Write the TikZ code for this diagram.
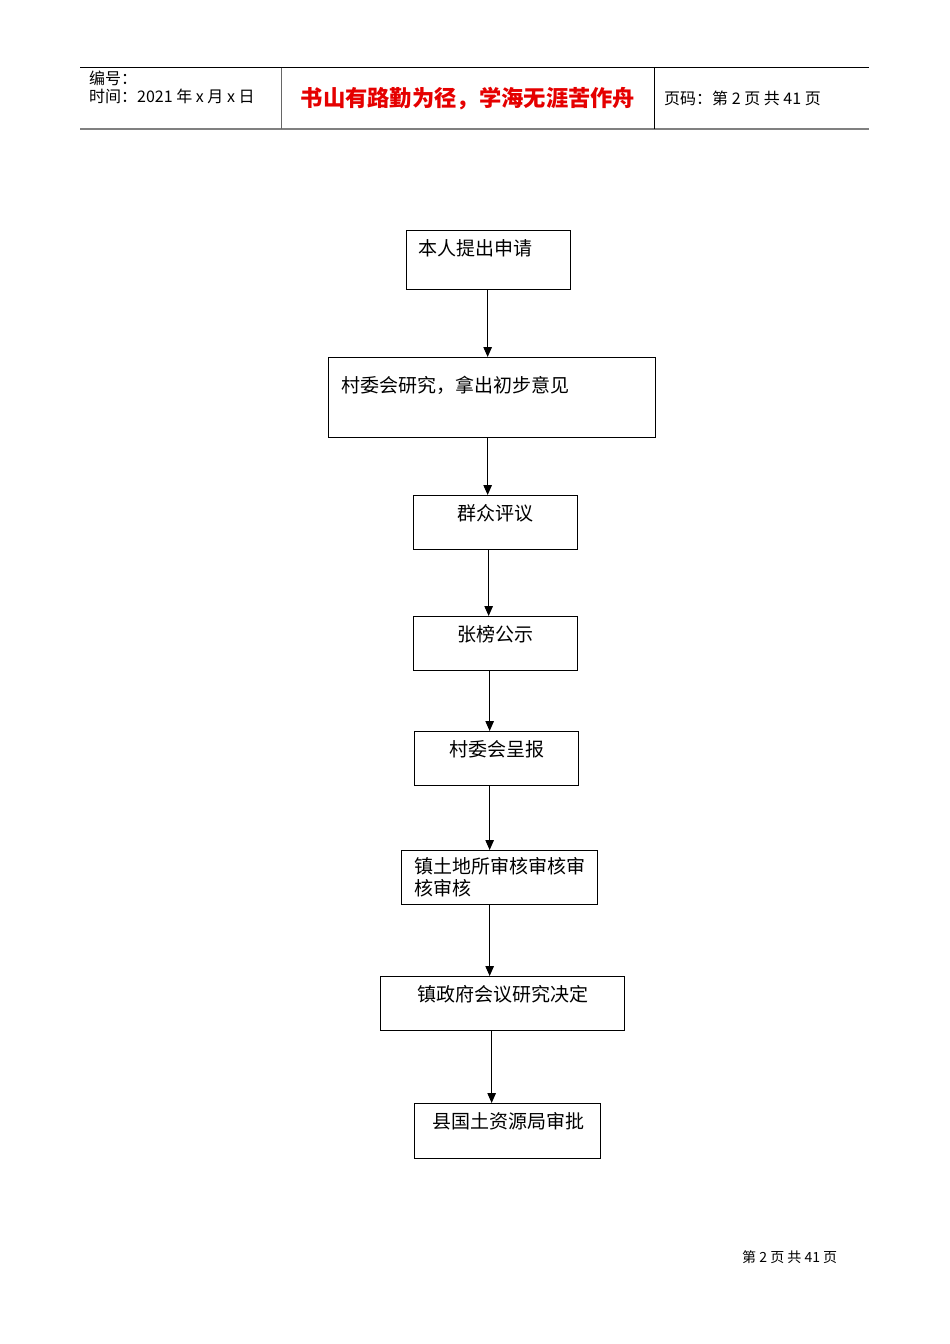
\documentclass[tikz,border=0pt]{standalone}
\usepackage{fontspec}
\usepackage{xcolor}
\setmainfont{Liberation Sans}
\newfontfamily\cjk{Noto Sans CJK SC}
\usetikzlibrary{arrows.meta}

\begin{document}
\begin{tikzpicture}[x=1pt,y=-1pt,font=\cjk\fontsize{19}{22}\selectfont,
  stepbox/.style={draw,line width=1.3pt,inner sep=0pt,anchor=north west},
  flow/.style={line width=1.1pt,-{Triangle[length=10pt,width=8.5pt]}}]
  \useasboundingbox (0,0) rectangle (950,1344);
  % page header
  \draw[line width=1pt] (80,67.5) -- (869,67.5);
  \draw[gray,line width=2pt] (80,129) -- (869,129);
  \draw[gray!80!black,line width=1.2pt] (281.5,67.5) -- (281.5,129);
  \draw[line width=1pt] (654,67.5) -- (654,129);
  \node[anchor=west,inner sep=0pt,font=\cjk\fontsize{16}{18}\selectfont] (hnum) at (89,78) {编号：};
  \node[anchor=west,inner sep=0pt,font=\cjk\fontsize{16}{18}\selectfont] (hdate) at (89,96) {时间：2021 年 x 月 x 日};
  \node[red!90!black,inner sep=0pt,font=\cjk\bfseries\fontsize{22.3}{24}\selectfont] (motto) at (468,99) {书山有路勤为径，学海无涯苦作舟};
  \node[anchor=west,inner sep=0pt,font=\cjk\fontsize{16}{18}\selectfont] (hpage) at (664,98) {页码：第 2 页 共 41 页};
  % flow boxes
  \node[stepbox,minimum width=164,minimum height=59] (b1) at (406,230) {};
  \node[stepbox,minimum width=327,minimum height=80] (b2) at (328,357) {};
  \node[stepbox,minimum width=164,minimum height=54] (b3) at (413,495) {};
  \node[stepbox,minimum width=164,minimum height=54] (b4) at (413,616) {};
  \node[stepbox,minimum width=164,minimum height=54] (b5) at (414,731) {};
  \node[stepbox,minimum width=196,minimum height=54] (b6) at (401,850) {};
  \node[stepbox,minimum width=244,minimum height=54] (b7) at (380,976) {};
  \node[stepbox,minimum width=186,minimum height=55] (b8) at (414,1103) {};
  % box texts
  \node[anchor=west,inner sep=0pt] (t1) at ([shift={(12,18)}]b1.north west) {本人提出申请};
  \node[anchor=west,inner sep=0pt] (t2) at ([shift={(13,28)}]b2.north west) {村委会研究，拿出初步意见};
  \node[inner sep=0pt] (t3) at ([shift={(0,18)}]b3.north) {群众评议};
  \node[inner sep=0pt] (t4) at ([shift={(0,18)}]b4.north) {张榜公示};
  \node[inner sep=0pt] (t5) at ([shift={(0,18)}]b5.north) {村委会呈报};
  \node[anchor=north west,inner sep=0pt,align=left] (t6) at ([shift={(13,7)}]b6.north west) {镇土地所审核审核审\\核审核};
  \node[inner sep=0pt] (t7) at ([shift={(0,18)}]b7.north) {镇政府会议研究决定};
  \node[inner sep=0pt] (t8) at ([shift={(0.5,18)}]b8.north) {县国土资源局审批};
  % arrows
  \draw[flow] ([xshift=-1pt]b1.south) -- ([xshift=-1pt]b1.south |- b2.north);
  \draw[flow] ([xshift=-4.5pt]b2.south) -- ([xshift=-4.5pt]b2.south |- b3.north);
  \draw[flow] ([xshift=-7pt]b3.south) -- ([xshift=-7pt]b3.south |- b4.north);
  \draw[flow] ([xshift=-6pt]b4.south) -- ([xshift=-6pt]b4.south |- b5.north);
  \draw[flow] ([xshift=-7pt]b5.south) -- ([xshift=-7pt]b5.south |- b6.north);
  \draw[flow] ([xshift=-10pt]b6.south) -- ([xshift=-10pt]b6.south |- b7.north);
  \draw[flow] ([xshift=-11pt]b7.south) -- ([xshift=-11pt]b7.south |- b8.north);
  % page footer
  \node[anchor=west,inner sep=0pt,font=\cjk\fontsize{14}{16}\selectfont] (foot) at (742,1257) {第 2 页 共 41 页};
\end{tikzpicture}
\end{document}
